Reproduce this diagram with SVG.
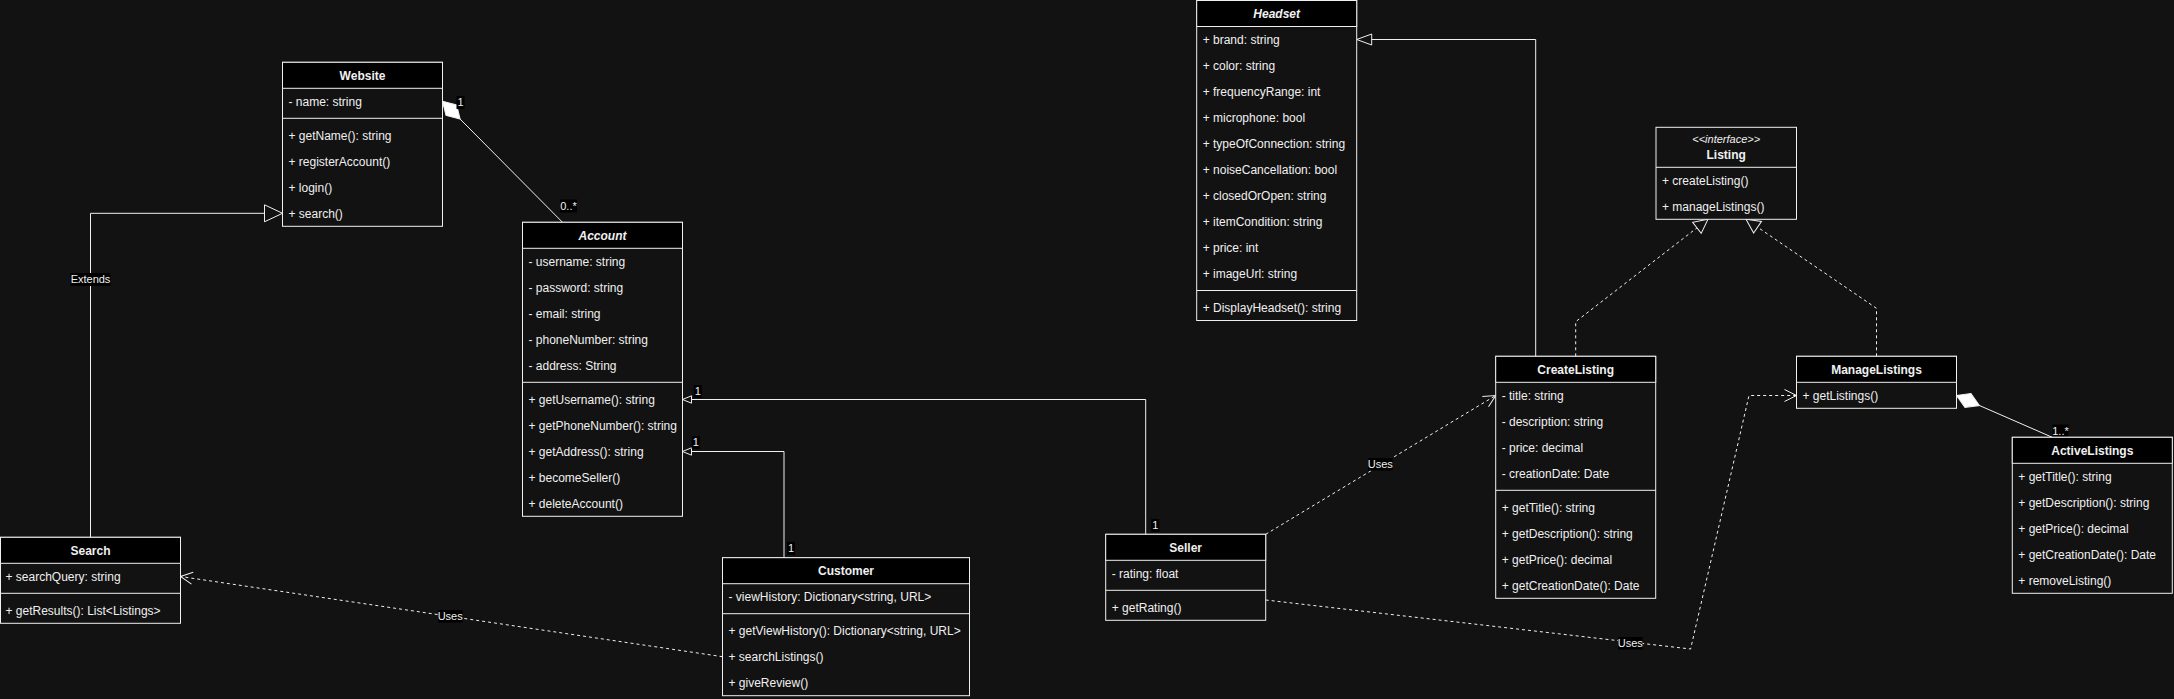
<svg xmlns="http://www.w3.org/2000/svg" width="2174" height="699" viewBox="0 0 2174 699">
<style>
.bg{fill:#121212}
.box{fill:#121212;stroke:#f0f0f0;stroke-width:1}
.hdr{fill:#000000;stroke:#f0f0f0;stroke-width:1}
.div{stroke:#f0f0f0;stroke-width:1}
.t{font-family:"Liberation Sans",Arial,sans-serif;font-size:12px;fill:#f0f0f0}
.h{font-weight:bold;text-anchor:middle}
.i{font-style:italic}
.st{font-style:italic;text-anchor:middle;font-size:11px}
.e{fill:none;stroke:#f0f0f0;stroke-width:1}
.d{stroke-dasharray:3 3}
.lb{fill:#000000}
.l{font-family:"Liberation Sans",Arial,sans-serif;font-size:11px;fill:#f0f0f0;text-anchor:middle}
</style>
<defs>
<marker id="triL" markerUnits="userSpaceOnUse" markerWidth="20" markerHeight="20" viewBox="-19 -10 20 20" refX="0" refY="0" orient="auto"><path d="M0,0 L-18,-8.5 L-18,8.5 Z" fill="#121212" stroke="#f0f0f0" stroke-width="1"/></marker>
<marker id="triH" markerUnits="userSpaceOnUse" markerWidth="18" markerHeight="14" viewBox="-16 -7 18 14" refX="0" refY="0" orient="auto"><path d="M0,0 L-15,-5.5 L-15,5.5 Z" fill="#121212" stroke="#f0f0f0" stroke-width="1"/></marker>
<marker id="triM" markerUnits="userSpaceOnUse" markerWidth="18" markerHeight="18" viewBox="-16 -9 18 18" refX="0" refY="0" orient="auto"><path d="M0,0 L-14,-7 L-14,7 Z" fill="#121212" stroke="#f0f0f0" stroke-width="1"/></marker>
<marker id="triS" markerUnits="userSpaceOnUse" markerWidth="12" markerHeight="10" viewBox="-10 -5 12 10" refX="0" refY="0" orient="auto"><path d="M0,0 L-9,-3.7 L-9,3.7 Z" fill="#121212" stroke="#f0f0f0" stroke-width="1"/></marker>
<marker id="open" markerUnits="userSpaceOnUse" markerWidth="16" markerHeight="16" viewBox="-14 -8 16 16" refX="0" refY="0" orient="auto"><path d="M-12,-6 L0,0 L-12,6" fill="none" stroke="#f0f0f0" stroke-width="1"/></marker>
<marker id="dia" markerUnits="userSpaceOnUse" markerWidth="28" markerHeight="18" viewBox="-1 -9 28 18" refX="0" refY="0" orient="auto"><path d="M0,0 L12.5,-7.5 L25,0 L12.5,7.5 Z" fill="#ffffff" stroke="#f0f0f0" stroke-width="1"/></marker>
</defs>
<rect class="bg" x="0" y="0" width="2174" height="699"/>

<g id="connectors">
<path class="e" d="M90.5,537.3 V213.3 H282.5" marker-end="url(#triL)"/>
<path class="e" d="M442.5,101.3 L562.5,222.3" marker-start="url(#dia)" stroke="#cccccc"/>
<path class="e" d="M1145.7,534.3 V399.5 H682.5" marker-end="url(#triS)"/>
<path class="e" d="M784,557.7 V451.5 H682.5" marker-end="url(#triS)"/>
<path class="e d" d="M722.5,656.7 L180.5,576.5" marker-end="url(#open)"/>
<path class="e d" d="M1265.7,534.3 L1495.7,395.5" marker-end="url(#open)"/>
<path class="e d" d="M1265.7,600 L1690.6,649 L1749,395.5 H1796.5" marker-end="url(#open)"/>
<path class="e" d="M1535.7,356.3 V39.5 H1356.7" marker-end="url(#triH)"/>
<path class="e d" d="M1575.7,356.3 V321.7 L1708,219.3" marker-end="url(#triM)"/>
<path class="e d" d="M1876.5,356.3 V308.3 L1746,219.3" marker-end="url(#triM)"/>
<path class="e" d="M1956.5,395.5 L2052.3,437.3" marker-start="url(#dia)" stroke="#cccccc"/>
<g>
<rect class="lb" x="70.5" y="273" width="40" height="13"/><text class="l" x="90.5" y="283.3">Extends</text>
<rect class="lb" x="456.5" y="96" width="8" height="13"/><text class="l" x="460.5" y="106.3">1</text>
<rect class="lb" x="560" y="199.5" width="17" height="13"/><text class="l" x="568.5" y="209.5">0..*</text>
<rect class="lb" x="693.7" y="385" width="8" height="13"/><text class="l" x="697.7" y="395">1</text>
<rect class="lb" x="691.7" y="436" width="8" height="13"/><text class="l" x="695.7" y="446.3">1</text>
<rect class="lb" x="787" y="542" width="8" height="13"/><text class="l" x="791" y="552">1</text>
<rect class="lb" x="1151.3" y="519" width="8" height="13"/><text class="l" x="1155.3" y="529.3">1</text>
<rect class="lb" x="438" y="610" width="24.5" height="12.5"/><text class="l" x="450.2" y="620.3">Uses</text>
<rect class="lb" x="1368" y="458" width="24.5" height="12.5"/><text class="l" x="1380.3" y="468.3">Uses</text>
<rect class="lb" x="1618" y="637" width="24.5" height="12.5"/><text class="l" x="1630.3" y="647.3">Uses</text>
<rect class="lb" x="2052.5" y="424.5" width="16" height="12.5"/><text class="l" x="2060.5" y="434.5">1..*</text>
</g>
</g>

<g id="Website">
<rect class="box" x="282.5" y="62.3" width="160" height="164"/>
<rect class="hdr" x="282.5" y="62.3" width="160" height="26"/>
<text class="t h" x="362.5" y="79.5">Website</text>
<text class="t" x="288.5" y="105.5">- name: string</text>
<line class="div" x1="282.5" y1="118.3" x2="442.5" y2="118.3"/>
<text class="t" x="288.5" y="139.5">+ getName(): string</text>
<text class="t" x="288.5" y="165.5">+ registerAccount()</text>
<text class="t" x="288.5" y="191.5">+ login()</text>
<text class="t" x="288.5" y="217.5">+ search()</text>
</g>

<g id="Account">
<rect class="box" x="522.5" y="222.3" width="160" height="294"/>
<rect class="hdr" x="522.5" y="222.3" width="160" height="26"/>
<text class="t h i" x="602.5" y="239.5">Account</text>
<text class="t" x="528.5" y="265.5">- username: string</text>
<text class="t" x="528.5" y="291.5">- password: string</text>
<text class="t" x="528.5" y="317.5">- email: string</text>
<text class="t" x="528.5" y="343.5">- phoneNumber: string</text>
<text class="t" x="528.5" y="369.5">- address: String</text>
<line class="div" x1="522.5" y1="382.3" x2="682.5" y2="382.3"/>
<text class="t" x="528.5" y="403.5">+ getUsername(): string</text>
<text class="t" x="528.5" y="429.5">+ getPhoneNumber(): string</text>
<text class="t" x="528.5" y="455.5">+ getAddress(): string</text>
<text class="t" x="528.5" y="481.5">+ becomeSeller()</text>
<text class="t" x="528.5" y="507.5">+ deleteAccount()</text>
</g>

<g id="Headset">
<rect class="box" x="1196.7" y="0.5" width="160" height="320"/>
<rect class="hdr" x="1196.7" y="0.5" width="160" height="26"/>
<text class="t h i" x="1276.7" y="17.7">Headset</text>
<text class="t" x="1202.7" y="43.7">+ brand: string</text>
<text class="t" x="1202.7" y="69.7">+ color: string</text>
<text class="t" x="1202.7" y="95.7">+ frequencyRange: int</text>
<text class="t" x="1202.7" y="121.7">+ microphone: bool</text>
<text class="t" x="1202.7" y="147.7">+ typeOfConnection: string</text>
<text class="t" x="1202.7" y="173.7">+ noiseCancellation: bool</text>
<text class="t" x="1202.7" y="199.7">+ closedOrOpen: string</text>
<text class="t" x="1202.7" y="225.7">+ itemCondition: string</text>
<text class="t" x="1202.7" y="251.7">+ price: int</text>
<text class="t" x="1202.7" y="277.7">+ imageUrl: string</text>
<line class="div" x1="1196.7" y1="290.5" x2="1356.7" y2="290.5"/>
<text class="t" x="1202.7" y="311.7">+ DisplayHeadset(): string</text>
</g>

<g id="Listing">
<rect class="box" x="1656" y="127.3" width="140.5" height="92"/>
<line class="div" x1="1656" y1="167.3" x2="1796.5" y2="167.3"/>
<text class="t st" x="1726.2" y="143">&lt;&lt;interface&gt;&gt;</text>
<text class="t h" x="1726.2" y="159">Listing</text>
<text class="t" x="1662" y="184.5">+ createListing()</text>
<text class="t" x="1662" y="210.5">+ manageListings()</text>
</g>

<g id="CreateListing">
<rect class="box" x="1495.7" y="356.3" width="160" height="242"/>
<rect class="hdr" x="1495.7" y="356.3" width="160" height="26"/>
<text class="t h" x="1575.7" y="373.5">CreateListing</text>
<text class="t" x="1501.7" y="399.5">- title: string</text>
<text class="t" x="1501.7" y="425.5">- description: string</text>
<text class="t" x="1501.7" y="451.5">- price: decimal</text>
<text class="t" x="1501.7" y="477.5">- creationDate: Date</text>
<line class="div" x1="1495.7" y1="490.3" x2="1655.7" y2="490.3"/>
<text class="t" x="1501.7" y="511.5">+ getTitle(): string</text>
<text class="t" x="1501.7" y="537.5">+ getDescription(): string</text>
<text class="t" x="1501.7" y="563.5">+ getPrice(): decimal</text>
<text class="t" x="1501.7" y="589.5">+ getCreationDate(): Date</text>
</g>

<g id="ManageListings">
<rect class="box" x="1796.5" y="356.3" width="160" height="52"/>
<rect class="hdr" x="1796.5" y="356.3" width="160" height="26"/>
<text class="t h" x="1876.5" y="373.5">ManageListings</text>
<text class="t" x="1802.5" y="399.5">+ getListings()</text>
</g>

<g id="ActiveListings">
<rect class="box" x="2012.3" y="437.3" width="160" height="156"/>
<rect class="hdr" x="2012.3" y="437.3" width="160" height="26"/>
<text class="t h" x="2092.3" y="454.5">ActiveListings</text>
<text class="t" x="2018.3" y="480.5">+ getTitle(): string</text>
<text class="t" x="2018.3" y="506.5">+ getDescription(): string</text>
<text class="t" x="2018.3" y="532.5">+ getPrice(): decimal</text>
<text class="t" x="2018.3" y="558.5">+ getCreationDate(): Date</text>
<text class="t" x="2018.3" y="584.5">+ removeListing()</text>
</g>

<g id="Search">
<rect class="box" x="0.5" y="537.3" width="180" height="86"/>
<rect class="hdr" x="0.5" y="537.3" width="180" height="26"/>
<text class="t h" x="90.5" y="554.5">Search</text>
<text class="t" x="5.5" y="580.5">+ searchQuery: string</text>
<line class="div" x1="0.5" y1="593.3" x2="180.5" y2="593.3"/>
<text class="t" x="5.5" y="614.5">+ getResults(): List&lt;Listings&gt;</text>
</g>

<g id="Customer">
<rect class="box" x="722.5" y="557.7" width="247" height="138"/>
<rect class="hdr" x="722.5" y="557.7" width="247" height="26"/>
<text class="t h" x="846" y="574.9">Customer</text>
<text class="t" x="728.5" y="600.9">- viewHistory: Dictionary&lt;string, URL&gt;</text>
<line class="div" x1="722.5" y1="613.7" x2="969.5" y2="613.7"/>
<text class="t" x="728.5" y="634.9">+ getViewHistory(): Dictionary&lt;string, URL&gt;</text>
<text class="t" x="728.5" y="660.9">+ searchListings()</text>
<text class="t" x="728.5" y="686.9">+ giveReview()</text>
</g>

<g id="Seller">
<rect class="box" x="1105.7" y="534.3" width="160" height="86"/>
<rect class="hdr" x="1105.7" y="534.3" width="160" height="26"/>
<text class="t h" x="1185.7" y="551.5">Seller</text>
<text class="t" x="1111.7" y="577.5">- rating: float</text>
<line class="div" x1="1105.7" y1="590.3" x2="1265.7" y2="590.3"/>
<text class="t" x="1111.7" y="611.5">+ getRating()</text>
</g>
</svg>
